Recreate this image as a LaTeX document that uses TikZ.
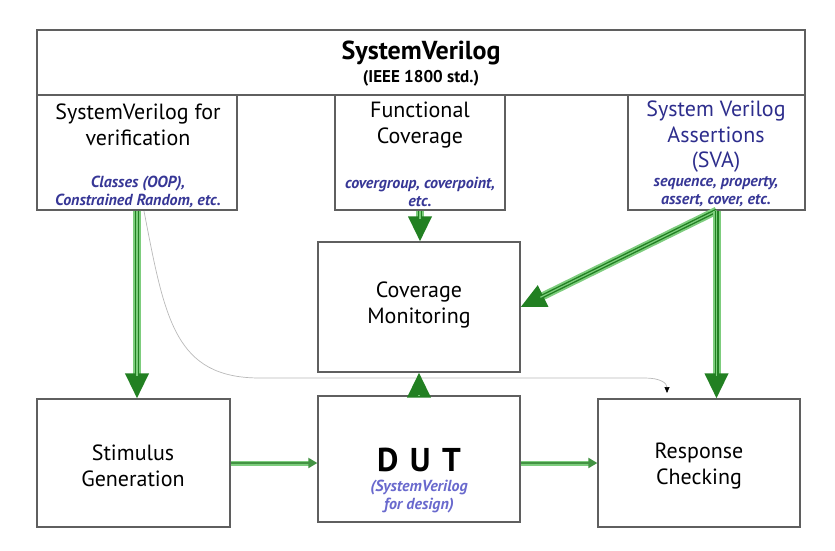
\documentclass[tikz,border=0pt]{standalone}
\usepackage{fontspec}
\setmainfont{PT Sans}
\usetikzlibrary{arrows.meta}
\definecolor{darkg}{RGB}{34,128,34}
\definecolor{lightg}{RGB}{125,205,125}
\definecolor{navy}{RGB}{45,45,140}
\definecolor{ital}{RGB}{55,55,150}
\definecolor{lblue}{RGB}{105,105,205}
\definecolor{boxc}{RGB}{95,95,95}
\begin{document}
\begin{tikzpicture}[x=1pt,y=-1pt,
 box/.style={draw=boxc, line width=1.3pt, inner sep=0pt},
 lbl/.style={font=\fontsize{22}{25.5}\selectfont, align=center, inner sep=0pt},
 sub/.style={font=\fontsize{16}{18}\selectfont\bfseries\itshape, text=ital, align=center, inner sep=0pt},
 bigarrow/.style={line width=4pt, draw=darkg, -{Triangle[width=23pt,length=25pt]},
   preaction={draw=lightg, line width=8pt, shorten >=20pt, arrows=-},
   postaction={draw=lightg, line width=1.2pt, shorten >=22pt, arrows=-}},
 smallarrow/.style={line width=2pt, draw=darkg!85, -{Triangle[width=10pt,length=9pt]},
   preaction={draw=lightg, line width=5pt, shorten >=7pt, arrows=-}},
 thin/.style={draw=gray!55, line width=0.7pt, -{Triangle[width=5pt,length=6pt,black]}}
]
\useasboundingbox (0,0) rectangle (835,550);
% boxes
\node[box, minimum width=768pt, minimum height=65pt] (top) at (421,62.5) {};
\node[box, minimum width=200pt, minimum height=115pt] (lv) at (137,152.5) {};
\node[box, minimum width=170pt, minimum height=115pt] (fc) at (420,152.5) {};
\node[box, minimum width=177pt, minimum height=115pt] (sva) at (716.5,152.5) {};
\node[box, minimum width=202pt, minimum height=130pt] (cov) at (419,307) {};
\node[box, minimum width=193pt, minimum height=128pt] (stim) at (133.5,463) {};
\node[box, minimum width=202pt, minimum height=126pt] (dut) at (419,459) {};
\node[box, minimum width=202pt, minimum height=128pt] (resp) at (699,463) {};
% texts
\node[font=\fontsize{26}{28}\selectfont\bfseries, inner sep=0pt] (svt) at (421,53) {SystemVerilog};
\node[font=\fontsize{17}{19}\selectfont\bfseries, inner sep=0pt] (ieee) at (421,78) {(IEEE 1800 std.)};
\node[lbl] (lvt) at (138,125) {SystemVerilog for\\verification};
\node[sub] (lvs) at (138,192) {Classes (OOP),\\Constrained Random, etc.};
\node[lbl] (fct) at (420,125) {Functional\\Coverage};
\node[sub] (fcs) at (420,192) {covergroup, coverpoint,\\etc.};
\node[lbl, text=navy] (svat) at (716,137) {System Verilog\\Assertions\\(SVA)};
\node[sub] (svas) at (716,192) {sequence, property,\\assert, cover, etc.};
\node[lbl] (covt) at (419,305) {Coverage\\Monitoring};
\node[lbl] (stimt) at (133,466) {Stimulus\\Generation};
\node[font=\fontsize{33}{35}\selectfont\bfseries, inner sep=0pt] (dutt) at (419,460) {D\hskip.35em U\hskip.35em T};
\node[sub, text=lblue] (duts) at (419,497) {(SystemVerilog\\for design)};
\node[lbl] (respt) at (699,466) {Response\\Checking};
% connectors
\coordinate (g0) at (144,211);
\coordinate (g1) at (667,393);
\draw[thin] (g0) .. controls (165,320) and (175,378) .. (260,378) -- (645,378) .. controls (660,378) and (667,383) .. (g1);
\draw[bigarrow] (lv.south) -- (lv.south |- stim.north);
\draw[bigarrow] (fc.south) -- (fc.south |- cov.north);
\draw[bigarrow] (sva.south) -- (cov.east);
\draw[bigarrow] (sva.south) -- (sva.south |- resp.north);
\draw[bigarrow] (dut.north) -- (cov.south);
\draw[smallarrow] (stim.east) -- (stim.east -| dut.west);
\draw[smallarrow] (dut.east |- stim.east) -- (resp.west);
\end{tikzpicture}
\end{document}
